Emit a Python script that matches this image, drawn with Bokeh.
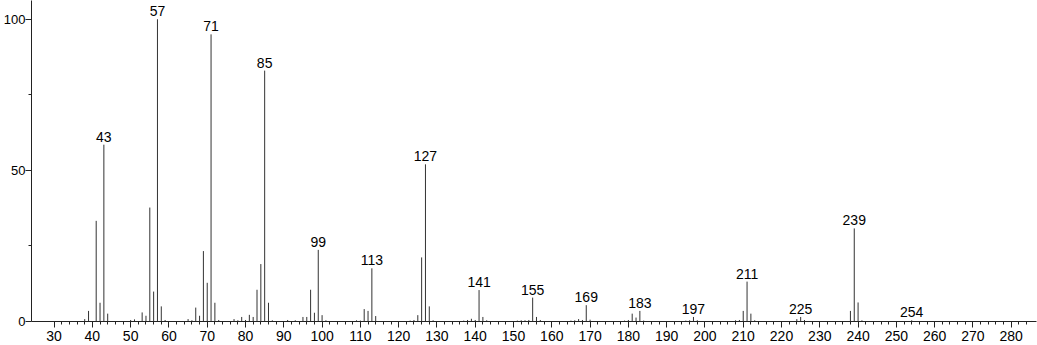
from bokeh.plotting import figure
from bokeh.models import Range1d, FixedTicker, ColumnDataSource, LabelSet
from bokeh.core.properties import value
from bokeh.embed import file_html
from bokeh.resources import INLINE

# m/z values and relative intensities
mz = [38, 39, 41, 42, 43, 44, 50, 51, 53, 54, 55, 56, 57, 58, 59,
      65, 66, 67, 68, 69, 70, 71, 72, 73, 77, 78, 79, 80, 81, 82, 83, 84, 85, 86, 87,
      91, 93, 95, 96, 97, 98, 99, 100, 101, 109, 110, 111, 112, 113, 114,
      123, 124, 125, 126, 127, 128, 129, 137, 138, 139, 140, 141, 142, 143,
      151, 152, 153, 154, 155, 156, 157, 165, 166, 167, 168, 169, 170,
      179, 180, 181, 182, 183, 184, 195, 196, 197, 198,
      208, 209, 210, 211, 212, 213, 224, 225, 226, 238, 239, 240, 241, 254]
intensity = [0.8, 3.5, 33.3, 6.2, 58.5, 2.6, 0.5, 0.7, 3.0, 1.9, 37.7, 9.9, 100.0, 5.0, 0.5,
             0.8, 0.4, 4.6, 1.9, 23.3, 12.8, 95.0, 6.2, 0.5, 0.8, 0.4, 1.5, 0.5, 2.2, 1.5, 10.5, 19.0, 83.0, 6.2, 0.4,
             0.5, 0.4, 1.5, 1.5, 10.5, 2.9, 23.7, 2.1, 0.4, 0.4, 0.3, 4.1, 3.5, 17.6, 1.8,
             0.3, 0.5, 2.1, 21.2, 52.0, 5.0, 0.4, 0.3, 0.5, 0.9, 0.5, 10.4, 1.5, 0.4,
             0.3, 0.4, 0.4, 0.5, 7.9, 1.5, 0.5, 0.3, 0.4, 0.8, 0.5, 5.4, 0.6,
             0.3, 0.5, 2.6, 1.3, 3.5, 0.3, 0.3, 0.4, 1.5, 0.4,
             0.4, 0.5, 3.5, 13.2, 2.6, 0.4, 0.8, 1.5, 0.5, 3.5, 30.8, 6.3, 0.4, 0.4]

labeled_mz = [43, 57, 71, 85, 99, 113, 127, 141, 155, 169, 183, 197, 211, 225, 239, 254]

x_ticks = [30, 40, 50, 60, 70, 80, 90, 100, 110, 120, 130, 140, 150, 160, 170, 180, 190,
           200, 210, 220, 230, 240, 250, 260, 270, 280]
x_minor = [v for v in range(32, 286, 2) if v % 10 != 0]
y_ticks = [0, 50, 100]
y_minor = [25, 75]

FONT = "Liberation Sans"

p = figure(width=1037, height=345, output_backend="svg", toolbar_location=None,
           x_range=Range1d(24.1, 286.6), y_range=Range1d(0, 106.2),
           min_border_left=30, min_border_right=1, min_border_top=0, min_border_bottom=24)
p.outline_line_color = None
p.xgrid.visible = False
p.ygrid.visible = False
p.background_fill_color = "white"
p.border_fill_color = "white"

p.segment(x0=mz, y0=[0] * len(mz), x1=mz, y1=intensity, line_color="#333333", line_width=1)

lookup = dict(zip(mz, intensity))
src = ColumnDataSource(dict(x=labeled_mz, y=[lookup[m] for m in labeled_mz],
                            t=[str(m) for m in labeled_mz]))
labels = LabelSet(x="x", y="y", text="t", source=src, text_align="center",
                  text_baseline="alphabetic", y_offset=3, text_font=value(FONT),
                  text_font_size=value("14px"), text_color=value("black"))
p.add_layout(labels)

for ax in (p.xaxis[0], p.yaxis[0]):
    ax.axis_line_color = "#222222"
    ax.major_tick_line_color = "#222222"
    ax.minor_tick_line_color = "#222222"
    ax.major_tick_in = 0
    ax.minor_tick_in = 0
    ax.major_label_text_font = FONT
    ax.major_label_text_color = "black"

p.xaxis.major_label_text_font_size = "14px"
p.yaxis.major_label_text_font_size = "13px"
p.xaxis.ticker = FixedTicker(ticks=x_ticks, minor_ticks=x_minor)
p.yaxis.ticker = FixedTicker(ticks=y_ticks, minor_ticks=y_minor)
p.xaxis.major_tick_out = 6
p.xaxis.minor_tick_out = 3
p.yaxis.major_tick_out = 6
p.yaxis.minor_tick_out = 3
p.xaxis.major_label_standoff = 3
p.yaxis.major_label_standoff = 0

open("out.html", "w").write(file_html(p, INLINE))
